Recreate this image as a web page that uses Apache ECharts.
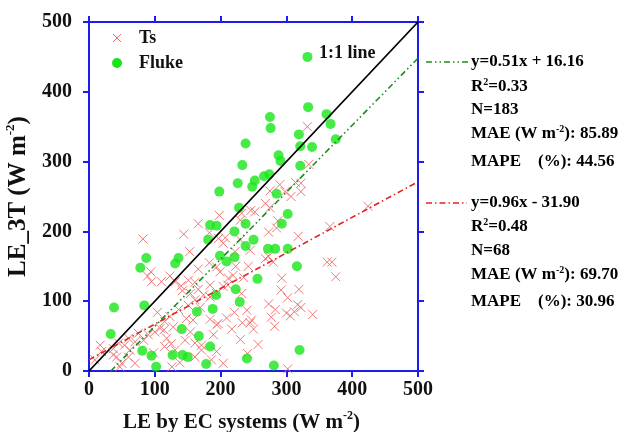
<!DOCTYPE html>
<html>
<head>
<meta charset="utf-8">
<script src="https://cdn.jsdelivr.net/npm/echarts@6/dist/echarts.min.js"></script>
<style>
  html, body { margin: 0; padding: 0; background: #fff; }
  #chart { width: 630px; height: 432px; }
</style>
</head>
<body>
<div id="chart"></div>
<script>
// Axis ticks (W m-2)
const axisTicks = [0, 100, 200, 300, 400, 500];

// Fluke measurements: [LE by EC, LE_3T]
const fluke = [
  [332, 450], [333, 378], [361, 368], [367, 354], [275, 364], [276, 348],
  [319, 339], [375, 332], [238, 326], [321, 322], [339, 321], [288, 309],
  [291, 301], [233, 295], [321, 294], [266, 279], [274, 282], [252, 273],
  [226, 269], [248, 264], [198, 257], [285, 254], [228, 234], [302, 225],
  [238, 211], [293, 211], [194, 208], [184, 209], [221, 200], [181, 188],
  [250, 188], [238, 179], [272, 175], [283, 175], [302, 175], [87, 162],
  [78, 148], [136, 162], [131, 154], [199, 165], [209, 157], [221, 163],
  [256, 132], [316, 150], [223, 117], [229, 99], [193, 109], [188, 89],
  [164, 85], [84, 94], [38, 91], [33, 53], [141, 60], [167, 50],
  [184, 35], [81, 29], [95, 22], [127, 23], [142, 23], [150, 20],
  [102, 6], [178, 10], [240, 18], [320, 30], [281, 8]
];

// Ts measurements: [LE by EC, LE_3T]
const ts = [
  [332, 350], [334, 296], [314, 270], [322, 269], [322, 257], [290, 267],
  [275, 258], [298, 257], [307, 250], [268, 240], [275, 234], [246, 230],
  [252, 228], [198, 223], [232, 226], [230, 216], [287, 215], [285, 205],
  [273, 199], [318, 193], [366, 207], [424, 236], [207, 191], [230, 188],
  [245, 173], [204, 183], [82, 189], [144, 196], [166, 211], [183, 198],
  [153, 171], [197, 190], [362, 156], [369, 156], [375, 135], [293, 133],
  [319, 117], [292, 116], [302, 105], [273, 96], [283, 88], [317, 95],
  [322, 91], [312, 85], [300, 83], [306, 79], [340, 81], [277, 77],
  [282, 64], [247, 73], [245, 69], [250, 60], [240, 87], [233, 69],
  [221, 84], [209, 76], [217, 60], [196, 68], [230, 45], [257, 38],
  [241, 25], [204, 11], [302, 3], [232, 111], [199, 142], [212, 133],
  [219, 137], [223, 150], [242, 150], [235, 134], [273, 164], [280, 156],
  [211, 123], [204, 121], [268, 161], [183, 155], [194, 149], [89, 136],
  [95, 128], [110, 128], [131, 128], [140, 122], [161, 127], [142, 115],
  [154, 111], [166, 117], [184, 123], [174, 109], [184, 106], [194, 111],
  [161, 102], [151, 94], [169, 91], [148, 75], [158, 73], [123, 78],
  [115, 71], [108, 61], [100, 56], [114, 59], [128, 63], [90, 52],
  [75, 54], [83, 44], [70, 42], [60, 47], [54, 37], [45, 40],
  [37, 32], [19, 28], [17, 37], [42, 20], [60, 20], [70, 11],
  [50, 11], [115, 35], [125, 39], [131, 30], [154, 56], [161, 40],
  [171, 37], [189, 52], [194, 66], [184, 74], [171, 30], [161, 20],
  [126, 6], [138, 12], [186, 16], [194, 28], [94, 142], [123, 136],
  [37, 23], [47, 6], [9, 16], [222, 171], [166, 146], [151, 130],
  [104, 84], [136, 88], [118, 47], [146, 44], [62, 30], [98, 26]
];

// Fitted lines as drawn: slope, intercept, x range
const fitGreen = { slope: 0.96, intercept: -31.90, x0: 33.2, x1: 500 };
const fitRed = { slope: 0.51, intercept: 16.16, x0: 0, x1: 500 };
const oneToOne = [0, 500];

// Statistics text blocks
const statsGreen = ['y=0.51x + 16.16', 'R2=0.33', 'N=183', 'MAE (W m-2): 85.89', 'MAPE    (%): 44.56'];
const statsRed = ['y=0.96x - 31.90', 'R2=0.48', 'N=68', 'MAE (W m-2): 69.70', 'MAPE    (%): 30.96'];

const SERIF = '"Liberation Serif", "Times New Roman", serif';
const BLUE = '#1c1cf0';
const INK = '#111';
const RED_X = '#ec6a6a';
const GREEN_DOT = '#19e619';
const GREEN_LINE = '#1f8a1f';
const RED_LINE = '#e3231f';

function fitPoints(f) {
  return [[f.x0, f.slope * f.x0 + f.intercept], [f.x1, f.slope * f.x1 + f.intercept]];
}

// Turn "R2=..." and "(W m-2)" into rich text with superscripts
function richStat(s) {
  if (s.startsWith('R2')) return '{b|R}{s|2}{b|' + s.slice(2) + '}';
  if (s.includes('m-2')) {
    const i = s.indexOf('m-2');
    return '{b|' + s.slice(0, i + 1) + '}{s|-2}{b|' + s.slice(i + 3) + '}';
  }
  return '{b|' + s + '}';
}
const statRich = {
  b: { fontFamily: SERIF, fontWeight: 'bold', fontSize: 17, color: INK, lineHeight: 20 },
  s: { fontFamily: SERIF, fontWeight: 'bold', fontSize: 10, color: INK, lineHeight: 20, verticalAlign: 'top' }
};

function statBlock(lines, x, ys) {
  return lines.map((t, i) => ({
    type: 'text', x: x, y: ys[i],
    style: { text: richStat(t), rich: statRich, verticalAlign: 'middle', align: 'left' }
  }));
}

const axisStyle = {
  axisLine: { show: true, onZero: false, lineStyle: { color: BLUE, width: 2 } },
  axisTick: { show: true, inside: false, length: 6, lineStyle: { color: BLUE, width: 2 } },
  splitLine: { show: false }
};
const tickFont = { fontFamily: SERIF, fontWeight: 'bold', fontSize: 20, color: INK };
function titleRich(size, supSize) {
  return {
    a: { fontFamily: SERIF, fontWeight: 'bold', fontSize: size, color: INK, lineHeight: size + 4 },
    s: { fontFamily: SERIF, fontWeight: 'bold', fontSize: supSize, color: INK, lineHeight: size + 4, verticalAlign: 'top' }
  };
}

const chart = echarts.init(document.getElementById('chart'), null, { renderer: 'canvas' });

chart.setOption({
  animation: false,
  backgroundColor: '#fff',
  grid: { left: 89, top: 22, width: 329, height: 349, containLabel: false, outerBoundsMode: 'none' },
  xAxis: [
    Object.assign({
      type: 'value', min: axisTicks[0], max: axisTicks[axisTicks.length - 1], interval: 100,
      position: 'bottom',
      axisLabel: Object.assign({ margin: 9 }, tickFont),
      name: '{a|LE by EC systems (W m}{s|-2}{a|)}',
      nameLocation: 'middle', nameGap: 39,
      nameTextStyle: { rich: titleRich(21, 12), padding: [0, 24, 0, 0] }
    }, axisStyle),
    Object.assign({
      type: 'value', min: axisTicks[0], max: axisTicks[axisTicks.length - 1], interval: 100,
      position: 'top', axisLabel: { show: false }
    }, axisStyle)
  ],
  yAxis: [
    Object.assign({
      type: 'value', min: axisTicks[0], max: axisTicks[axisTicks.length - 1], interval: 100,
      position: 'left',
      axisLabel: Object.assign({ margin: 17 }, tickFont),
      name: '{a|LE_3T (W m}{s|-2}{a|)}',
      nameLocation: 'middle', nameGap: 50, nameRotate: 90,
      nameTextStyle: { rich: titleRich(25, 13) }
    }, axisStyle),
    Object.assign({
      type: 'value', min: axisTicks[0], max: axisTicks[axisTicks.length - 1], interval: 100,
      position: 'right', axisLabel: { show: false }
    }, axisStyle)
  ],
  series: [
    {
      name: 'Ts', type: 'scatter', data: ts, z: 2,
      symbol: 'path://M0,0L8,8M8,0L0,8', symbolSize: 9,
      itemStyle: { color: 'transparent', borderColor: RED_X, borderWidth: 1, opacity: 0.9 }
    },
    {
      name: 'Fluke', type: 'scatter', data: fluke, z: 3,
      symbol: 'circle', symbolSize: 10,
      itemStyle: { color: GREEN_DOT }
    },
    {
      name: '1:1 line', type: 'line', z: 4, showSymbol: false, silent: true,
      data: oneToOne.map(v => [v, v]),
      lineStyle: { color: '#000', width: 1.8 }
    },
    {
      name: 'fit green', type: 'line', z: 4, showSymbol: false, silent: true,
      data: fitPoints(fitGreen),
      lineStyle: { color: GREEN_LINE, width: 1.6, type: [6, 3, 1.5, 3, 1.5, 3] }
    },
    {
      name: 'fit red', type: 'line', z: 4, showSymbol: false, silent: true,
      data: fitPoints(fitRed),
      lineStyle: { color: RED_LINE, width: 1.6, type: [6, 3, 1.5, 3] }
    }
  ],
  graphic: [
    // legend
    { type: 'polyline', shape: { points: [[113, 34], [121, 42]] }, style: { stroke: RED_X, lineWidth: 1 } },
    { type: 'polyline', shape: { points: [[121, 34], [113, 42]] }, style: { stroke: RED_X, lineWidth: 1 } },
    { type: 'text', x: 139, y: 38, style: { text: 'Ts', font: 'bold 18px ' + SERIF, fill: INK, verticalAlign: 'middle' } },
    { type: 'circle', shape: { cx: 117, cy: 63, r: 5 }, style: { fill: GREEN_DOT } },
    { type: 'text', x: 139, y: 63, style: { text: 'Fluke', font: 'bold 18px ' + SERIF, fill: INK, verticalAlign: 'middle' } },
    { type: 'text', x: 319, y: 53, z: 10, style: { text: '1:1 line', font: 'bold 18px ' + SERIF, fill: INK, verticalAlign: 'middle' } },
    // keys for the fitted lines
    { type: 'line', shape: { x1: 426, y1: 62, x2: 469, y2: 62 }, style: { stroke: GREEN_LINE, lineWidth: 1.6, lineDash: [6, 3, 1.5, 3, 1.5, 3] } },
    { type: 'line', shape: { x1: 426, y1: 203, x2: 467, y2: 203 }, style: { stroke: RED_LINE, lineWidth: 1.6, lineDash: [6, 3, 1.5, 3] } }
  ]
    .concat(statBlock(statsGreen, 471, [62, 87, 110, 134, 162]))
    .concat(statBlock(statsRed, 471, [203, 227, 251, 275, 302]))
});
</script>
</body>
</html>
